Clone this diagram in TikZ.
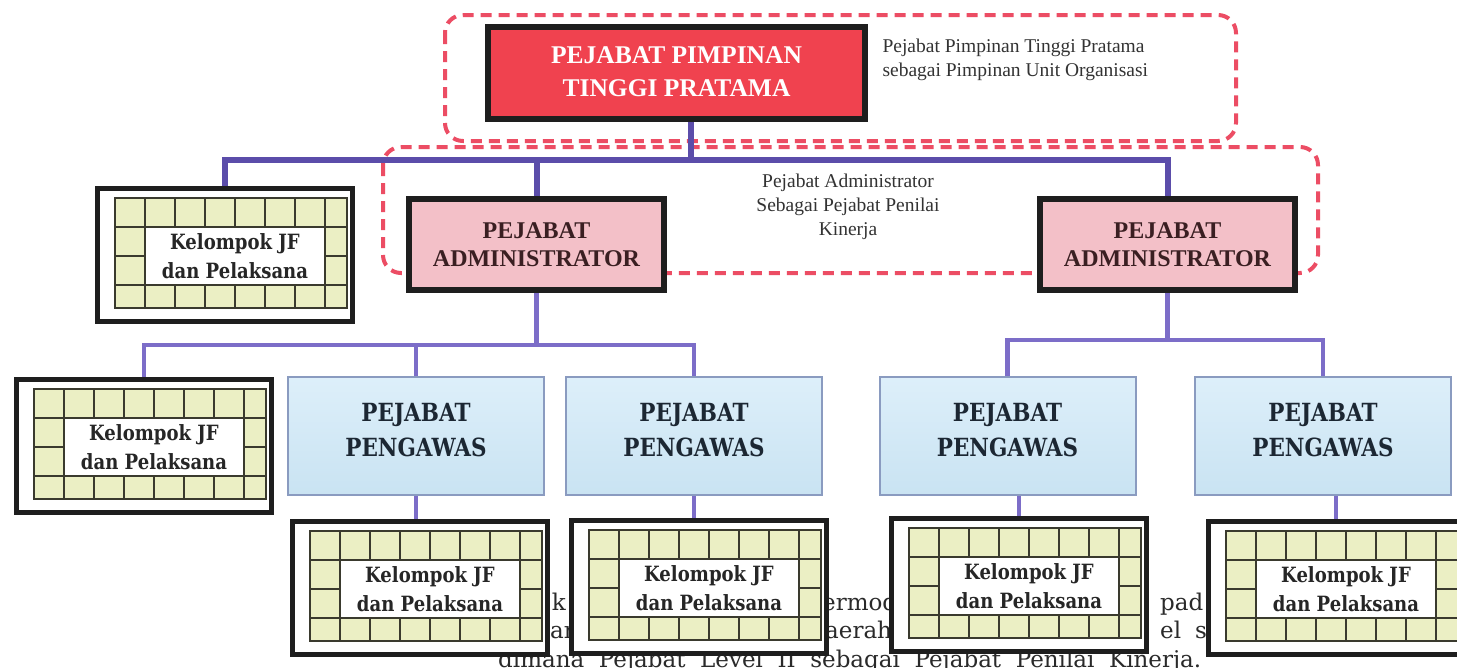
\documentclass[tikz,border=0pt]{standalone}
\usepackage{fontspec}
\setmainfont{Liberation Serif}
\newfontfamily\camb{DejaVu Serif}[FakeStretch=0.86]
\newfontfamily\bodyfont{DejaVu Serif}
\usetikzlibrary{calc}
\definecolor{dashred}{HTML}{EC4D64}
\definecolor{topred}{HTML}{F0424F}
\definecolor{adminpink}{HTML}{F3C0C8}
\definecolor{connA}{HTML}{5B4DAA}
\definecolor{connB}{HTML}{7C6DC8}
\definecolor{pgtop}{HTML}{DDEFFA}
\definecolor{pgbot}{HTML}{C9E3F2}
\definecolor{pgdraw}{HTML}{8A9BC0}
\definecolor{cellfill}{HTML}{EBEFC4}
\definecolor{gridcol}{HTML}{3A3A2E}
\definecolor{framecol}{HTML}{1E1E1E}
\definecolor{pgtext}{HTML}{1C2733}
\definecolor{admtext}{HTML}{3A1F22}
\definecolor{bodytext}{HTML}{2A2A2A}
\tikzset{
  dashbox/.style={draw=dashred, line width=4pt, dash pattern=on 11pt off 7pt, rounded corners=18pt},
  connone/.style={draw=connA, line width=6pt},
  conntwo/.style={draw=connB, line width=4.5pt},
  dblframe/.style={draw=framecol, line width=5pt, fill=white, inner sep=0pt},
  topbox/.style={dblframe, minimum width=378pt, minimum height=93pt},
  adminbox/.style={dblframe, minimum width=256pt, minimum height=92pt},
  admtextstyle/.style={align=center, text=admtext, inner sep=0pt,
    font=\bfseries\fontsize{24}{28}\selectfont},
  pgbox/.style={draw=pgdraw, line width=2pt, top color=pgtop, bottom color=pgbot,
    minimum width=256pt, minimum height=118pt, inner sep=0pt},
  pgtextstyle/.style={align=center, inner sep=0pt,
    text=pgtext, font=\camb\bfseries\fontsize{25}{35}\selectfont},
  kelframe/.style={draw=framecol, line width=5pt, fill=white, minimum width=255pt,
    minimum height=133pt, inner sep=0pt},
  keltext/.style={align=center, text=black!85, inner sep=0pt,
    font=\camb\bfseries\fontsize{21}{29}\selectfont},
  gridline/.style={draw=gridcol, line width=1.4pt},
  note/.style={align=center, text=black!80, font=\fontsize{19.5}{24}\selectfont},
  bodyline/.style={text=bodytext, inner sep=0pt, font=\bodyfont\fontsize{23}{28}\selectfont}
}
\newcommand\innerframe[2]{%
  \draw[draw=framecol, line width=1.2pt, fill=#2]
    ($(#1.north west)+(5,5)$) rectangle ($(#1.south east)+(-5,-5)$);}
\newcommand\kelbox[3]{%
  \node[kelframe, anchor=north west] (#1) at (#2,#3) {};
  \begin{scope}[shift={(#1.north west)}]
    \fill[cellfill] (20,12) rectangle (252,122);
    \fill[white] (50,41) rectangle (230,99);
    \draw[gridline] (20,12) rectangle (252,122);
    \draw[gridline] (20,41) -- (252,41) (20,99) -- (252,99);
    \draw[gridline] (20,70) -- (50,70) (230,70) -- (252,70);
    \foreach \gx in {50,230} \draw[gridline] (\gx,12) -- (\gx,122);
    \foreach \gx in {80,110,140,170,200}
      \draw[gridline] (\gx,12) -- (\gx,41) (\gx,99) -- (\gx,122);
  \end{scope}
  \node[keltext] (#1t) at ($(#1.north west)+(140,70)$) {Kelompok JF\\dan Pelaksana};
}
\newcommand\pgnode[3]{%
  \node[pgbox] (#1) at (#2,#3) {};
  \node[pgtextstyle] (#1t) at ($(#1)+(0,-6)$) {PEJABAT\\PENGAWAS};
}
\begin{document}
\begin{tikzpicture}[x=1pt, y=-1pt]
\useasboundingbox (0,0) rectangle (1457,667);
\clip (0,0) rectangle (1457,667);
\fill[white] (0,0) rectangle (1457,667);

% background body text (partly hidden behind the boxes)
\node[bodyline, anchor=base east] (bt1) at (566,610) {k};
\node[bodyline, anchor=base west] (bt2) at (822,610) {ermod};
\node[bodyline, anchor=base west] (bt3) at (1160,610) {pad};
\node[bodyline, anchor=base west] (bt4) at (550,638) {ar};
\node[bodyline, anchor=base west] (bt5) at (825,638) {aerah};
\node[bodyline, anchor=base west] (bt6) at (1160,638) {el\hspace{14pt}s};
\node[bodyline, anchor=base west] (bt7) at (498,667)
  {\makebox[703pt][s]{dimana Pejabat Level II sebagai Pejabat Penilai Kinerja.}};

% dashed groupings
\draw[dashbox] (445,15) rectangle (1236,141);
\draw[dashbox] (383,147) rectangle (1318,273);

% coordinates of the buses
\coordinate (bus1) at (691,160);
\coordinate (bus2) at (538,345);
\coordinate (bus3) at (1172,340);

% nodes
\node[topbox] (top) at (676.5,73) {};
\innerframe{top}{topred}
\node[align=center, text=white, inner sep=0pt,
  font=\bfseries\fontsize{25.5}{33}\selectfont] (toptext) at (676.5,72)
  {PEJABAT PIMPINAN\\TINGGI PRATAMA};

\node[adminbox] (A1) at (536.5,244.5) {};
\innerframe{A1}{adminpink}
\node[admtextstyle] (A1t) at (536.5,245) {PEJABAT\\ADMINISTRATOR};
\node[adminbox] (A2) at (1167.5,244.5) {};
\innerframe{A2}{adminpink}
\node[admtextstyle] (A2t) at (1167.5,245) {PEJABAT\\ADMINISTRATOR};

\node[note, align=left, anchor=west] (n1) at (879,60)
  {Pejabat Pimpinan Tinggi Pratama\\sebagai Pimpinan Unit Organisasi};
\node[note] (n2) at (848,207)
  {Pejabat Administrator\\Sebagai Pejabat Penilai\\Kinerja};

\kelbox{K1}{95}{186}
\kelbox{K2}{14}{377}
\kelbox{K3}{290}{519}
\kelbox{K4}{569}{518}
\kelbox{K5}{889}{516}
\kelbox{K6}{1206}{519}

\pgnode{P1}{416}{436}
\pgnode{P2}{694}{436}
\pgnode{P3}{1007.5}{436}
\pgnode{P4}{1323}{436}

% connectors
\draw[connone] (top.south -| bus1) -- (bus1);
\draw[connone] (K1.north) |- (bus1) -| (A2.north);
\draw[connone] (A1.north) -- (A1.north |- bus1);

\draw[conntwo] (A1.south) -- (A1.south |- bus2);
\draw[conntwo] (K2.north) |- (bus2) -| (P2.north);
\draw[conntwo] (P1.north) -- (P1.north |- bus2);

\draw[conntwo] (A2.south) -- (A2.south |- bus3);
\draw[conntwo] (P3.north) |- (bus3) -| (P4.north);

\draw[conntwo] (P1.south) -- (P1.south |- K3.north);
\draw[conntwo] (P2.south) -- (P2.south |- K4.north);
\draw[conntwo] (K5.north |- P3.south) -- (K5.north);
\draw[conntwo] (K6.north |- P4.south) -- (K6.north);
\end{tikzpicture}
\end{document}
